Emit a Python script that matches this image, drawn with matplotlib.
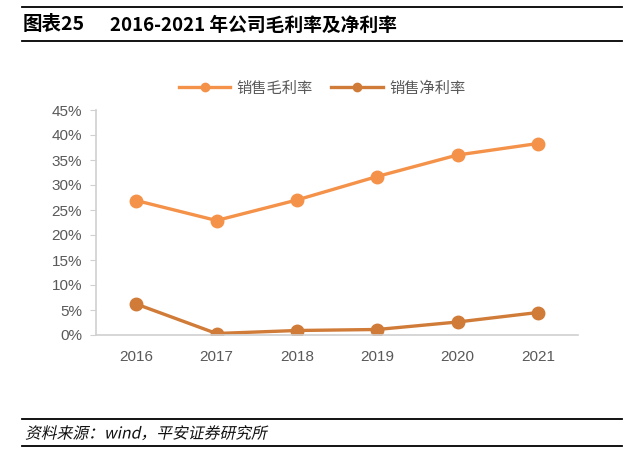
import matplotlib
matplotlib.use("Agg")
import matplotlib.pyplot as plt
from matplotlib.lines import Line2D
from matplotlib.textpath import TextPath
from matplotlib.patches import PathPatch
from matplotlib.font_manager import FontProperties
from matplotlib.transforms import Affine2D

plt.rcParams['font.family'] = ['Liberation Sans', 'Noto Sans CJK SC', 'DejaVu Sans']

years = ['2016', '2017', '2018', '2019', '2020', '2021']
gross_margin = [26.9, 22.9, 27.0, 31.7, 36.0, 38.3]
net_margin = [6.2, 0.3, 0.9, 1.1, 2.6, 4.5]
series_names = ['销售毛利率', '销售净利率']
yticks = [0, 5, 10, 15, 20, 25, 30, 35, 40, 45]

c_gross = '#F4924A'
c_net = '#D07B38'

W, H = 640, 471
fig = plt.figure(figsize=(W/100, H/100), dpi=100)

def fx(px): return px / W
def fy(py): return 1 - py / H

# Title rules and text
fig.add_artist(Line2D([fx(22), fx(622)], [fy(7), fy(7)], color='black', lw=1.3))
fig.add_artist(Line2D([fx(22), fx(622)], [fy(41), fy(41)], color='black', lw=1.3))
fig.text(fx(23), fy(25), '图表25', fontsize=14, fontweight='bold', va='center', ha='left',
         family=['Noto Sans CJK SC', 'DejaVu Sans'])
fig.text(fx(110), fy(25), '2016-2021 年公司毛利率及净利率', fontsize=13.5, fontweight='bold',
         va='center', ha='left', family=['Noto Sans CJK SC', 'DejaVu Sans'])

# Footer
fig.add_artist(Line2D([fx(22), fx(622)], [fy(419), fy(419)], color='black', lw=1.3))
fig.add_artist(Line2D([fx(22), fx(622)], [fy(446), fy(446)], color='black', lw=1.3))
tp = TextPath((0, 0), '资料来源：wind，平安证券研究所', size=15.8,
              prop=FontProperties(family='Noto Sans CJK SC'))
tr = Affine2D().skew_deg(12, 0).translate(25, H - 438.5)
fig.add_artist(PathPatch(tp, transform=tr, color='#111111', lw=0))

# Axes
ax = fig.add_axes([fx(96), fy(335), fx(578) - fx(96), fy(110) - fy(335)])
x = list(range(len(years)))
ax.plot(x, gross_margin, color=c_gross, lw=2.4, marker='o', markersize=9, label=series_names[0])
ax.plot(x, net_margin, color=c_net, lw=2.4, marker='o', markersize=9, label=series_names[1])
ax.set_xlim(-0.5, len(years) - 0.5)
ax.set_ylim(0, 45)
ax.set_yticks(yticks)
ax.set_yticklabels([f'{v}%' for v in yticks])
ax.set_xticks(x)
ax.set_xticklabels(years)
for s in ['top', 'right']:
    ax.spines[s].set_visible(False)
for s in ['left', 'bottom']:
    ax.spines[s].set_color('#D0D0D0')
    ax.spines[s].set_linewidth(1.2)
ax.tick_params(axis='y', length=4, color='#D0D0D0', labelsize=11, labelcolor='#595959', pad=6)
ax.tick_params(axis='x', length=0, labelsize=11, labelcolor='#595959', pad=11)

ax_w = fx(578) - fx(96)
leg_cx = (fx(322) - fx(96)) / ax_w
leg = ax.legend(loc='center', bbox_to_anchor=(leg_cx, (fy(88) - fy(335)) / (fy(110) - fy(335))),
                ncol=2, frameon=False, handlelength=3.4, columnspacing=1.2,
                handletextpad=0.4, prop={'family': ['Noto Sans CJK SC', 'DejaVu Sans'], 'size': 11})
for t in leg.get_texts():
    t.set_color('#595959')
for h in leg.legend_handles:
    h.set_markersize(6)

fig.savefig('out.png', dpi=100)
